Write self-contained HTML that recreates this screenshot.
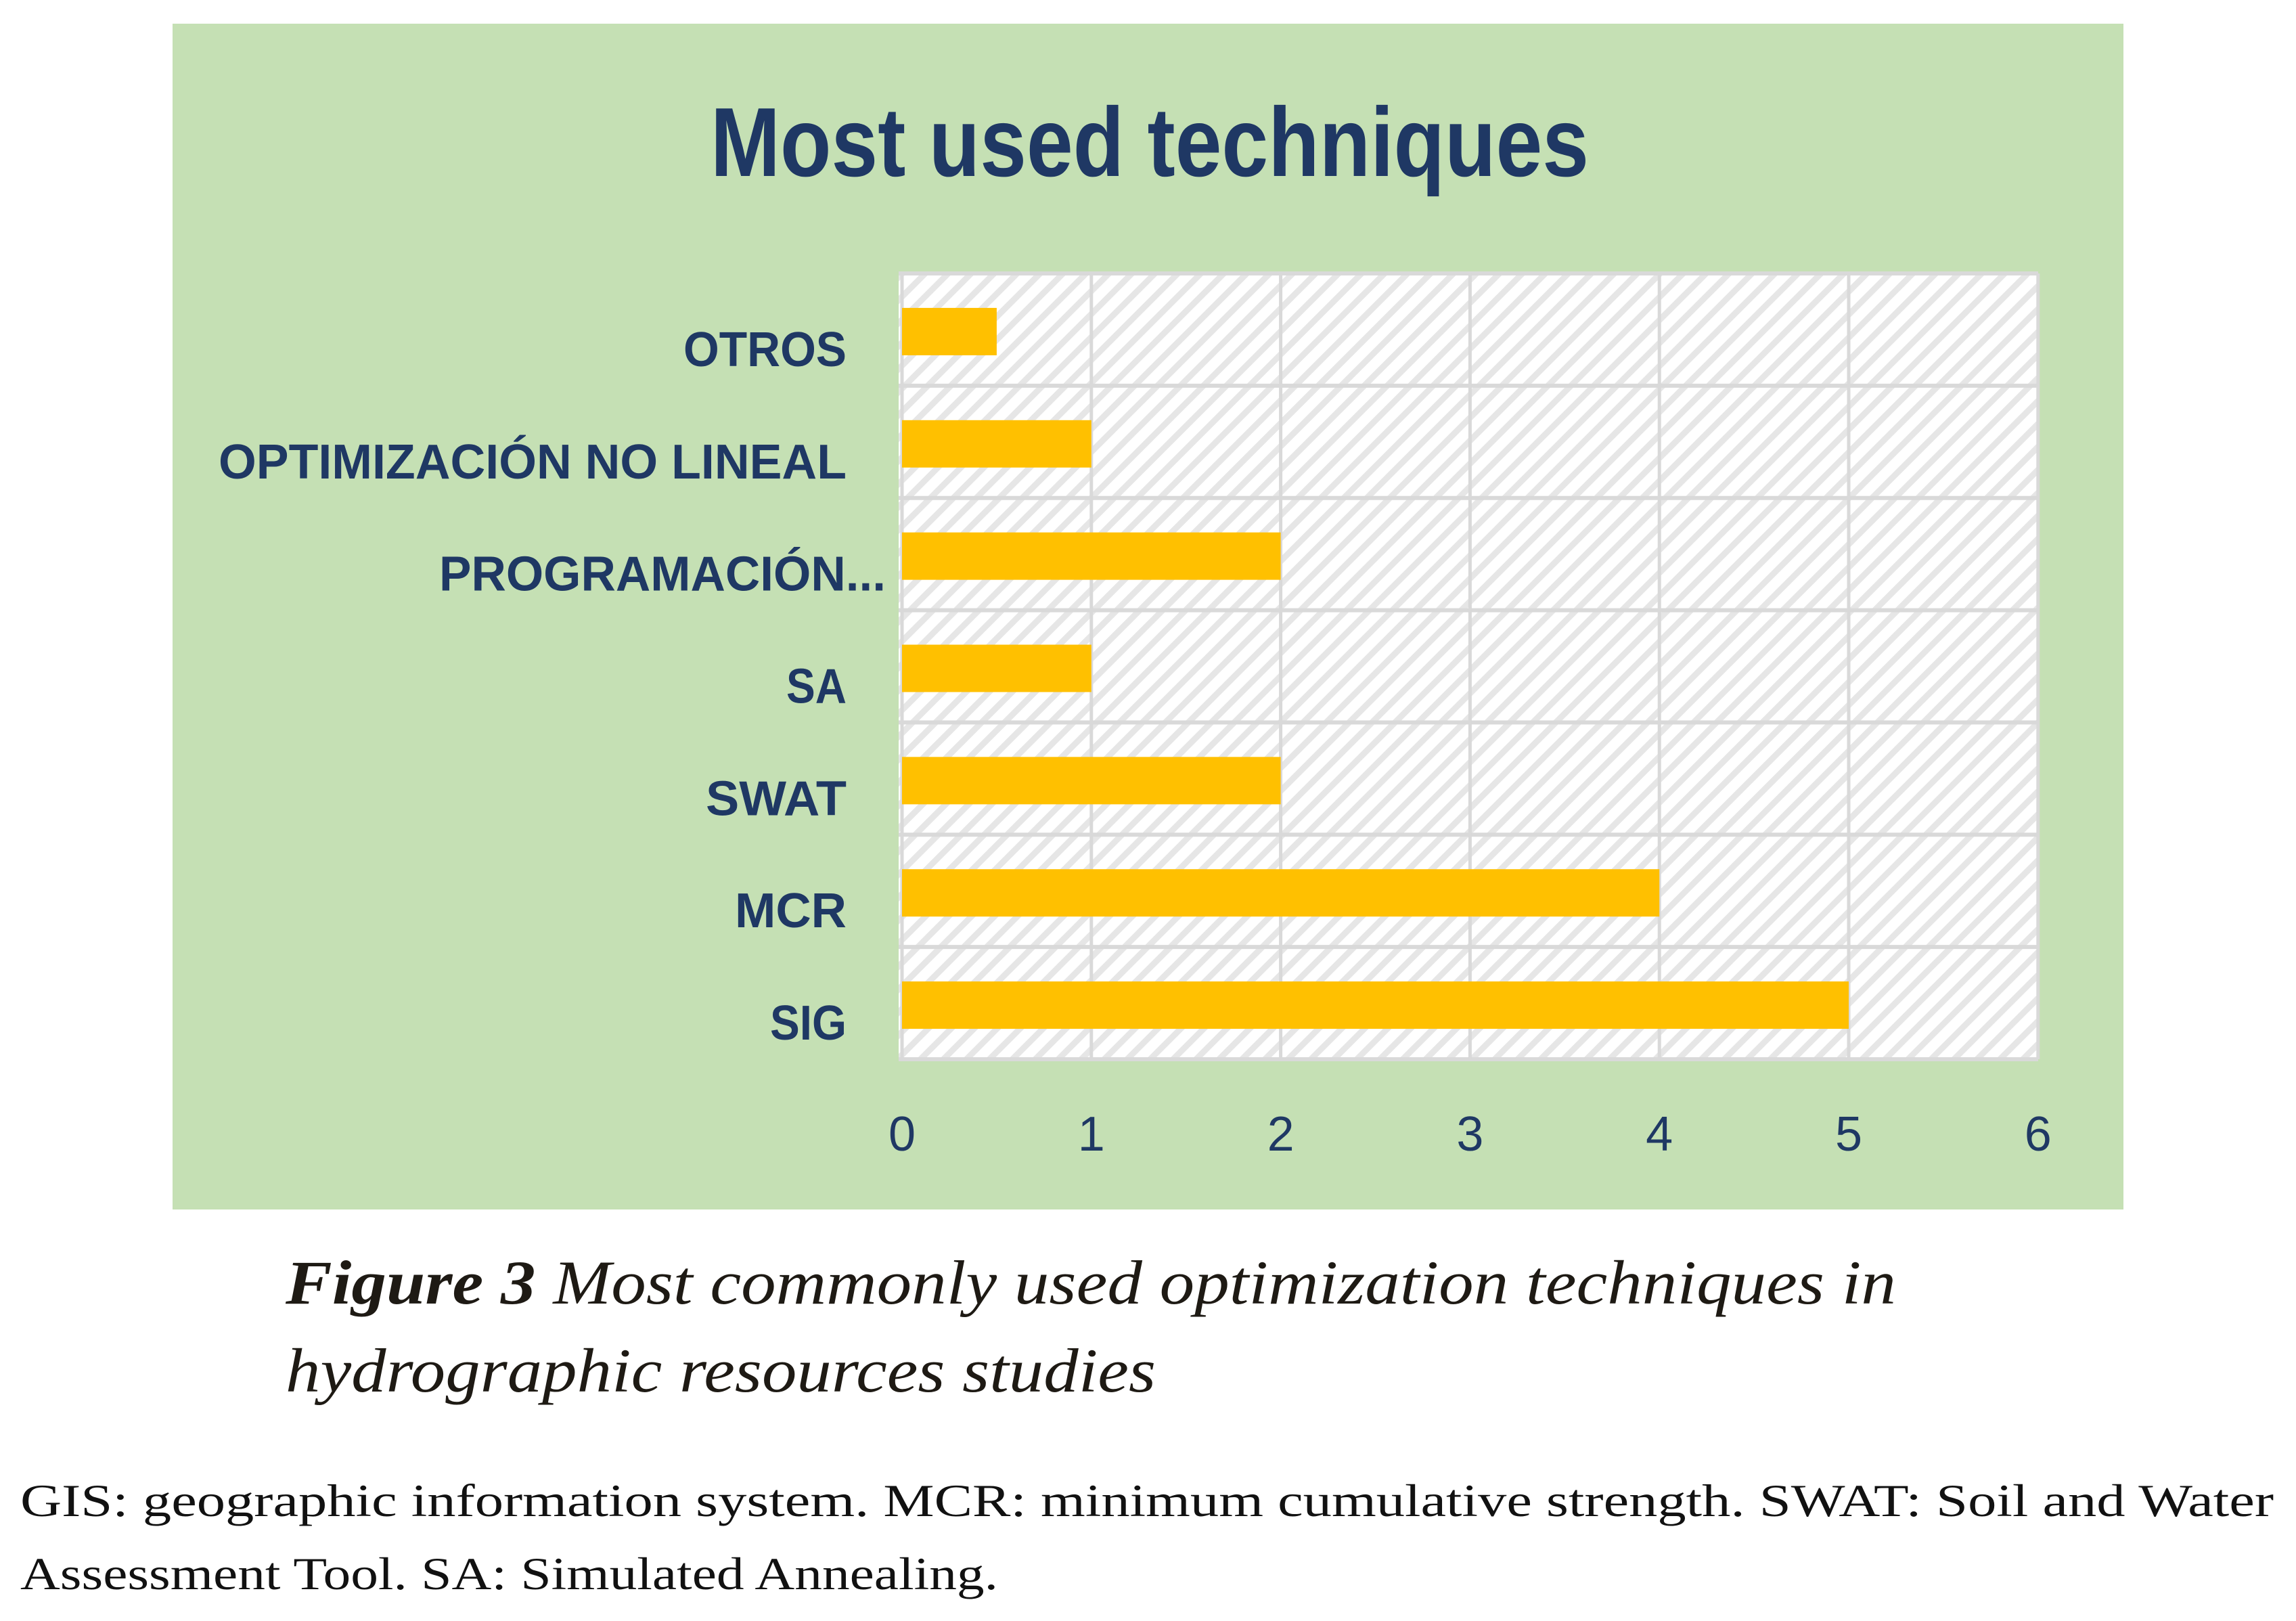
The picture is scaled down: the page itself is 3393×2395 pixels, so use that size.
<!DOCTYPE html>
<html><head><meta charset="utf-8"><style>
html,body{margin:0;padding:0;background:#fff;}
svg{display:block;}
</style></head><body>
<svg width="3393" height="2395" viewBox="0 0 3393 2395" xmlns="http://www.w3.org/2000/svg">
<defs>
<pattern id="hatch" width="24" height="24" patternUnits="userSpaceOnUse" patternTransform="rotate(45)">
<rect width="24" height="24" fill="#ffffff"/>
<rect width="9" height="24" fill="#e6e6e6"/>
</pattern>
</defs>
<rect x="255" y="35" width="2883" height="1752" fill="#c5e0b4"/>
<text x="1699" y="260" text-anchor="middle" font-family="Liberation Sans, sans-serif" font-weight="bold" font-size="145" fill="#1f3864" textLength="1298" lengthAdjust="spacingAndGlyphs">Most used techniques</text>
<rect x="1328" y="404" width="1684" height="1161" fill="url(#hatch)"/>
<g id="grid"></g>
<g id="bars"></g>
<g id="ylabels"></g>
<g id="xlabels"></g>
<text x="422" y="1926" font-family="Liberation Serif, serif" font-style="italic" font-size="92" fill="#1e1a14" textLength="2380" lengthAdjust="spacingAndGlyphs"><tspan font-weight="bold">Figure 3</tspan> Most commonly used optimization techniques in</text>
<text x="422" y="2056" font-family="Liberation Serif, serif" font-style="italic" font-size="92" fill="#1e1a14" textLength="1286" lengthAdjust="spacingAndGlyphs">hydrographic resources studies</text>
<text x="30" y="2240" font-family="Liberation Serif, serif" font-size="68" fill="#111" textLength="3330" lengthAdjust="spacingAndGlyphs">GIS: geographic information system. MCR: minimum cumulative strength. SWAT: Soil and Water</text>
<text x="30" y="2348" font-family="Liberation Serif, serif" font-size="68" fill="#111" textLength="1445" lengthAdjust="spacingAndGlyphs">Assessment Tool. SA: Simulated Annealing.</text>
</svg>
<script>
const categories = ["OTROS","OPTIMIZACIÓN NO LINEAL","PROGRAMACIÓN...","SA","SWAT","MCR","SIG"];
const values = [0.5, 1, 2, 1, 2, 4, 5];
const xTicks = [0,1,2,3,4,5,6];
const labelWidths = [241, 928, 660, 89, 208, 165, 113];

const NS = "http://www.w3.org/2000/svg";
const x0 = 1333, unit = 279.8, plotTop = 404, plotBottom = 1565;
const rowH = (plotBottom - plotTop) / categories.length;
function xs(v){ return x0 + v * unit; }
function yc(i){ return plotTop + rowH * (i + 0.5); }
function mk(tag, attrs, parent){ const e = document.createElementNS(NS, tag); for (const k in attrs) e.setAttribute(k, attrs[k]); parent.appendChild(e); return e; }

const grid = document.getElementById('grid');
for (let i = 0; i <= categories.length; i++) {
  const y = plotTop + rowH * i;
  const l = mk('line', {x1: 1328, x2: 3012, y1: y, y2: y, stroke: '#d9d9d9', 'stroke-width': 6}, grid);
  
  
}
xTicks.forEach(t => {
  const l = mk('line', {x1: xs(t), x2: xs(t), y1: plotTop, y2: plotBottom, stroke: '#d9d9d9', 'stroke-width': 5}, grid);
  
  
});

const bars = document.getElementById('bars');
const ylab = document.getElementById('ylabels');
categories.forEach((c, i) => {
  const bh = 70;
  const r = mk('rect', {x: x0, y: yc(i) - bh/2 + 3, width: xs(values[i]) - x0, height: bh, fill: '#ffc000'}, bars);
  
  
  const t = mk('text', {x: i === 2 ? 1309 : 1251, y: yc(i) + 54, 'text-anchor': 'end', 'font-family': 'Liberation Sans, sans-serif', 'font-weight': 'bold', 'font-size': 72, fill: '#1f3864', textLength: labelWidths[i], lengthAdjust: 'spacingAndGlyphs'}, ylab);
  t.textContent = c;
  
  
});

const xl = document.getElementById('xlabels');
xTicks.forEach(t => {
  const e = mk('text', {x: xs(t), y: 1700, 'text-anchor': 'middle', 'font-family': 'Liberation Sans, sans-serif', 'font-size': 72, fill: '#1f3864'}, xl);
  e.textContent = t;
  
  
});
</script>
</body></html>
